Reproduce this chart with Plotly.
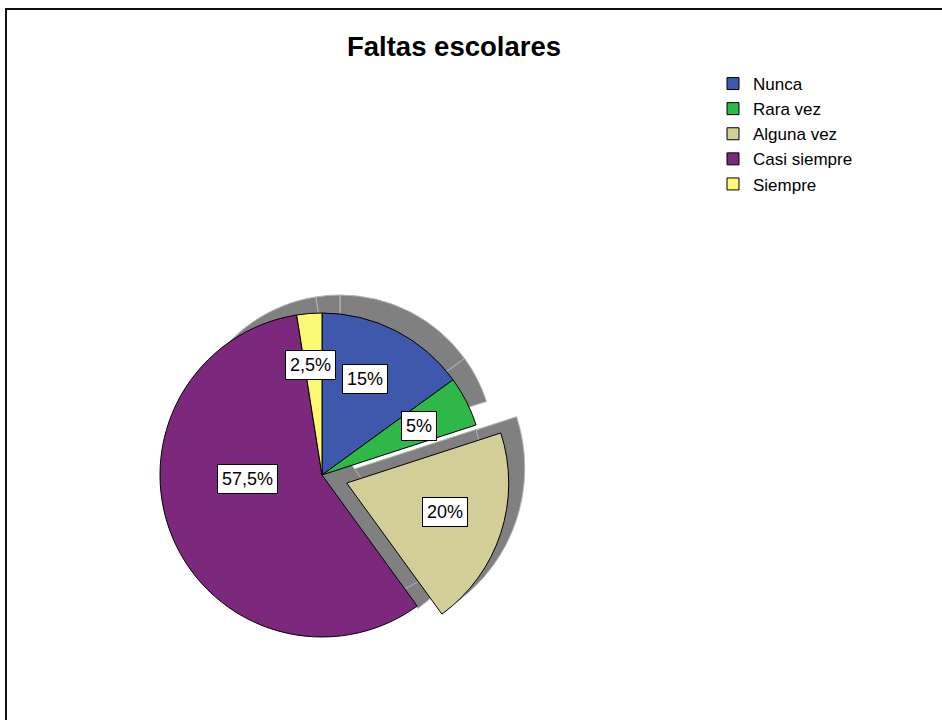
import math
import plotly.graph_objects as go

# ---------------- data ----------------
categories = ["Nunca", "Rara vez", "Alguna vez", "Casi siempre", "Siempre"]
percentages = [15, 5, 20, 57.5, 2.5]
pct_labels = ["15%", "5%", "20%", "57,5%", "2,5%"]
colors = ["#3E58AC", "#2EB848", "#D3CE97", "#7C287D", "#FBF873"]
pulled = [0, 0, 1, 0, 0]
title_text = "Faltas escolares"

# ---------------- layout geometry (pixels) ----------------
W, H = 942, 720
CX, CY, R = 322, 475, 162          # main pie centre / radius
PULL_PX = 26                       # offset of the exploded slice
BODY_SH = (18, -26, 154)           # body shadow: dx, dy, radius
PULL_SH = [(12, -15, 166), (-23, -4, 160)]  # exploded-slice shadows (relative to its apex)
SHADOW = "#808080"
SHADOW_LINE = "#b4b4b4"
FONT = "Liberation Sans, Arial, sans-serif"

# label placement tweaks (fraction of radius, angle shift in degrees)
label_r = [0.65, 0.67, 0.63, 0.46, 0.68]
label_da = [-3, 0, -1.5, 19.5, -1.5]


def domain(cx, cy, half):
    return dict(x=[(cx - half) / W, (cx + half) / W],
                y=[(H - cy - half) / H, (H - cy + half) / H])


total = sum(percentages)
cum = 0
mid_angles = []
for v in percentages:
    mid_angles.append(360 * (cum + v / 2) / total)
    cum += v


def polar(cx, cy, r, ang):
    a = math.radians(ang)
    return cx + r * math.sin(a), cy - r * math.cos(a)


def shadow_pie(tag, visible, cx, cy, r):
    return go.Pie(
        labels=[tag + c for c in categories], values=percentages, sort=False,
        direction="clockwise", rotation=0,
        marker=dict(colors=[SHADOW if s else "rgba(0,0,0,0)" for s in visible],
                    line=dict(color=SHADOW_LINE, width=[1 if s else 0 for s in visible])),
        textinfo="none", hoverinfo="skip", showlegend=False,
        domain=domain(cx, cy, r))


fig = go.Figure()

# shadows of the exploded slice
pi = pulled.index(1)
mx, my = polar(CX, CY, PULL_PX, mid_angles[pi])
for k, (dx, dy, rr) in enumerate(PULL_SH):
    fig.add_trace(shadow_pie("p%d_" % k, pulled, mx + dx, my + dy, rr))

# body shadow
fig.add_trace(shadow_pie("b_", [1 - p for p in pulled],
                         CX + BODY_SH[0], CY + BODY_SH[1], BODY_SH[2]))

# main pie
fig.add_trace(go.Pie(
    labels=categories, values=percentages, sort=False,
    direction="clockwise", rotation=0,
    pull=[p * PULL_PX / R for p in pulled],
    marker=dict(colors=colors, line=dict(color="#000000", width=1)),
    textinfo="none", hoverinfo="label+percent",
    domain=domain(CX, CY, R + PULL_PX)))

# percentage labels in white boxes
annotations = []
for i, txt in enumerate(pct_labels):
    cx, cy = (mx, my) if pulled[i] else (CX, CY)
    px, py = polar(cx, cy, label_r[i] * R, mid_angles[i] + label_da[i])
    annotations.append(dict(
        x=px / W, y=1 - py / H, xref="paper", yref="paper",
        text=txt, showarrow=False, xanchor="center", yanchor="middle",
        bgcolor="white", bordercolor="black", borderwidth=1, borderpad=4,
        font=dict(family=FONT, size=18, color="black")))

fig.update_layout(
    width=W, height=H,
    margin=dict(l=0, r=0, t=0, b=0),
    paper_bgcolor="white", plot_bgcolor="white",
    title=dict(text="<b>" + title_text + "</b>", x=454 / W, xanchor="center",
               y=1 - 46 / H, yanchor="middle",
               font=dict(family=FONT, size=27.5, color="black")),
    legend=dict(x=713 / W, y=1 - 66 / H, xanchor="left", yanchor="top",
                font=dict(family=FONT, size=17, color="black"),
                bgcolor="rgba(0,0,0,0)", traceorder="normal"),
    annotations=annotations,
    shapes=[dict(type="rect", xref="paper", yref="paper",
                 x0=6 / W, x1=1.05, y0=-0.05, y1=1 - 9 / H,
                 line=dict(color="#111111", width=2), fillcolor="rgba(0,0,0,0)")],
)

fig.write_html("out.html",
               config={"displayModeBar": False},
               post_script="document.body.style.margin='0px';"
                           "document.body.style.padding='0px';")
